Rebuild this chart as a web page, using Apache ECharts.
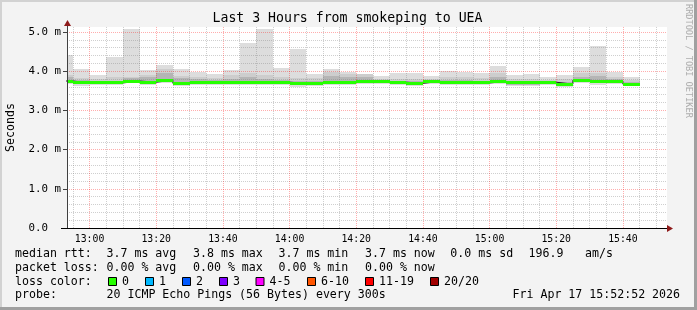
<!DOCTYPE html>
<html><head><meta charset="utf-8">
<script src="https://cdn.jsdelivr.net/npm/echarts@6/dist/echarts.min.js"></script>
<style>html,body{margin:0;padding:0;background:#f3f3f3}#c{width:697px;height:310px}</style>
</head><body><div id="c"></div>
<script>
// ---- data (milliseconds) ----
const binStart = ["12:50","12:55","13:00","13:05","13:10","13:15","13:20","13:25","13:30","13:35","13:40","13:45",
  "13:50","13:55","14:00","14:05","14:10","14:15","14:20","14:25","14:30","14:35","14:40","14:45",
  "14:50","14:55","15:00","15:05","15:10","15:15","15:20","15:25","15:30","15:35","15:40"];
const maxv = [4.41,4.05,3.90,4.35,5.08,4.03,4.16,4.06,3.99,3.92,4.03,4.73,5.08,4.07,4.57,3.92,4.06,3.97,3.93,3.88,3.96,3.96,3.89,4.01,3.97,3.95,4.13,3.90,3.93,3.84,3.90,4.10,4.64,3.99,3.84];
const p90  = [3.90,3.82,3.79,3.84,3.86,3.90,4.05,3.88,3.84,3.82,3.90,3.95,3.90,3.84,3.82,3.82,3.97,3.93,3.93,3.79,3.80,3.80,3.79,3.86,3.84,3.82,3.95,3.79,3.79,3.78,3.79,3.95,3.96,3.86,3.77];
const p75  = [3.84,3.77,3.75,3.76,3.82,3.84,3.95,3.82,3.79,3.77,3.80,3.84,3.80,3.78,3.76,3.76,3.88,3.84,3.84,3.77,3.76,3.75,3.77,3.77,3.77,3.76,3.84,3.75,3.75,3.76,3.73,3.86,3.88,3.79,3.72];
const med  = [3.75,3.70,3.70,3.70,3.75,3.72,3.77,3.69,3.72,3.72,3.72,3.72,3.72,3.72,3.69,3.69,3.72,3.72,3.74,3.73,3.72,3.69,3.74,3.70,3.72,3.70,3.74,3.70,3.70,3.72,3.67,3.77,3.73,3.74,3.67];
const p25  = [3.72,3.67,3.67,3.67,3.72,3.69,3.73,3.66,3.69,3.69,3.69,3.69,3.69,3.69,3.65,3.66,3.69,3.69,3.70,3.70,3.69,3.66,3.71,3.67,3.69,3.67,3.71,3.66,3.66,3.69,3.64,3.73,3.69,3.70,3.64];
const minv = [3.68,3.62,3.64,3.64,3.69,3.65,3.70,3.63,3.66,3.66,3.66,3.65,3.66,3.66,3.61,3.63,3.66,3.66,3.68,3.67,3.66,3.63,3.68,3.64,3.66,3.64,3.68,3.63,3.63,3.66,3.61,3.70,3.66,3.67,3.62];
const binMinutes = 5;
const xLabelTicks = ["13:00","13:20","13:40","14:00","14:20","14:40","15:00","15:20","15:40"];
const yLabelTicks = [0,1,2,3,4,5];
const startTime = "12:53:14", endTime = "15:53:14";
const yMax = 5.128;

function tm(s){const p=s.split(':').map(Number);return p[0]*60+p[1]+(p[2]||0)/60;}
function fmt(v){const h=Math.floor(v/60+1e-9),m=Math.round(v-h*60);return String(h).padStart(2,'0')+':'+String(m).padStart(2,'0');}
const XMIN = tm(startTime), XMAX = tm(endTime);

const rows = binStart.map((s,i)=>[tm(s), tm(s)+binMinutes, minv[i], p25[i], med[i], p75[i], p90[i], maxv[i]]);
const stepData = binStart.map((s,i)=>[tm(s), med[i]]);
stepData.push([tm(binStart[binStart.length-1])+binMinutes, med[med.length-1]]);

// grid line positions
const xMajor = xLabelTicks.map(tm);
const xMinor = [];
for (let t = tm("12:55"); t <= XMAX; t += 5) { if (!xMajor.some(m=>Math.abs(m-t)<1e-6)) xMinor.push(t); }
const yMajor = [1,2,3,4,5];
const yMinor = [];
for (let k = 1; k <= 25; k++) { if (k % 5) yMinor.push(k*0.2); }

const minorStyle = {color:'rgba(130,130,130,0.38)', width:1, type:[1,1]};
const majorStyle = {color:'rgba(255,0,0,0.32)', width:1, type:[1,1]};
const gridMark = (arr, key, style) => arr.map(v => ({[key]: v, lineStyle: style}));

function renderSmoke(params, api){
  const xa = Math.max(api.value(0), XMIN), xb = api.value(1);
  const layers = [[2,7,'#dddddd'],[3,6,'#cdcdcd'],[3,5,'#b5b5b5']];
  return {type:'group', children: layers.map(([lo,hi,c])=>{
    const a = api.coord([xa, api.value(hi)]), b = api.coord([xb, api.value(lo)]);
    const x = Math.round(a[0]), y = Math.round(a[1]);
    return {type:'rect', shape:{x:x, y:y, width:Math.round(b[0])-x, height:Math.max(1,Math.round(b[1])-y)}, style:{fill:c}};
  })};
}
function renderMedian(params, api){
  const xa = Math.max(api.value(0), XMIN);
  const a = api.coord([xa, api.value(4)]), b = api.coord([api.value(1), api.value(4)]);
  const x = Math.round(a[0]);
  return {type:'rect', shape:{x:x, y:Math.round(a[1]-1.5), width:Math.round(b[0])-x, height:3}, style:{fill:'#26ff00'}};
}

const MONO = '"DejaVu Sans Mono", monospace';
const LF = '11.6px ' + MONO;
function txt(x, y, s, extra){ return Object.assign({type:'text', x:x, y:y, silent:true, style:{text:s, font:LF, fill:'#000', textAlign:'left', textVerticalAlign:'middle'}}, extra||{}); }
const L1 = 254.3, L2 = 267.8, L3 = 281.5, L4 = 295.4;
const lossColors = [['0','#26ff00',108.5],['1','#00b8ff',145.5],['2','#0059ff',182.5],['3','#7e00ff',219.5],
  ['4-5','#ff00ff',256],['6-10','#ff5500',307.5],['11-19','#ff0000',365.5],['20/20','#a10000',430.5]];

const graphics = [
  {type:'rect', shape:{x:0,y:0,width:697,height:310}, style:{fill:'#f3f3f3'}, z:-10},
  {type:'rect', shape:{x:0,y:0,width:697,height:2}, style:{fill:'#d2d2d2'}, z:-9},
  {type:'rect', shape:{x:0,y:0,width:2,height:310}, style:{fill:'#d2d2d2'}, z:-9},
  {type:'rect', shape:{x:694,y:0,width:3,height:310}, style:{fill:'#a0a0a0'}, z:-9},
  {type:'rect', shape:{x:0,y:307,width:697,height:3}, style:{fill:'#a0a0a0'}, z:-9},
  {type:'text', x:347.5, y:18.5, style:{text:'Last 3 Hours from smokeping to UEA', font:'13.2px '+MONO, fill:'#000', textAlign:'center', textVerticalAlign:'middle'}},
  {type:'text', x:11, y:127.5, rotation:Math.PI/2, style:{text:'Seconds', font:LF, fill:'#000', textAlign:'center', textVerticalAlign:'middle'}},
  {type:'text', x:688.5, y:4, rotation:-Math.PI/2, style:{text:'RRDTOOL / TOBI OETIKER', font:'8.6px '+MONO, fill:'#adadad', textAlign:'left', textVerticalAlign:'middle'}},
  // axis extensions and arrows
  {type:'line', shape:{x1:61,y1:228.5,x2:668,y2:228.5}, style:{stroke:'#000',lineWidth:1}, z:10},
  {type:'line', shape:{x1:67.5,y1:228,x2:67.5,y2:24}, style:{stroke:'#404040',lineWidth:1}, z:10},
  {type:'polygon', shape:{points:[[64,26],[71,26],[67.5,20]]}, style:{fill:'#8e1a1a'}, z:11},
  {type:'polygon', shape:{points:[[667,225],[667,232],[673,228.5]]}, style:{fill:'#8e1a1a'}, z:11},
  // legend
  txt(15,L1,'median rtt:'), txt(106.5,L1,'3.7 ms avg'), txt(193,L1,'3.8 ms max'), txt(278.5,L1,'3.7 ms min'),
  txt(365,L1,'3.7 ms now'), txt(450.3,L1,'0.0 ms sd'), txt(528.5,L1,'196.9'), txt(585,L1,'am/s'),
  txt(15,L2,'packet loss:'), txt(106.5,L2,'0.00 % avg'), txt(193,L2,'0.00 % max'), txt(278.5,L2,'0.00 % min'), txt(365,L2,'0.00 % now'),
  txt(15,L3,'loss color:'),
  txt(15,L4,'probe:'), txt(106.5,L4,'20 ICMP Echo Pings (56 Bytes) every 300s'), txt(512.5,L4,'Fri Apr 17 15:52:52 2026')
];
lossColors.forEach(([lab,col,x])=>{
  graphics.push({type:'rect', shape:{x:x, y:277.5, width:8, height:8}, style:{fill:col, stroke:'#000', lineWidth:1}, z:5});
  graphics.push(txt(x+13.5, L3, lab));
});

const chart = echarts.init(document.getElementById('c'), null, {renderer:'canvas'});
chart.setOption({
  animation:false,
  backgroundColor:'transparent',
  graphic:{elements:graphics},
  grid:{left:67, top:27, width:600, height:201, show:true, backgroundColor:'#ffffff', borderWidth:0},
  xAxis:{type:'value', min:XMIN, max:XMAX, splitNumber:9,
    axisLine:{show:true, lineStyle:{color:'#000'}}, axisTick:{show:false},
    splitLine:{show:false},
    axisLabel:{customValues:xMajor, margin:6, fontFamily:'DejaVu Sans Mono', fontSize:9.8, color:'#000',
      formatter:v=>{const r=Math.round(v); return (Math.abs(v-r)<1e-6 && r%20===0)?fmt(r):'';}}},
  yAxis:{type:'value', min:0, max:yMax, interval:1,
    axisLine:{show:true, lineStyle:{color:'#404040'}},
    axisTick:{show:true, customValues:yLabelTicks, length:4, lineStyle:{color:'#404040'}},
    splitLine:{show:false},
    axisLabel:{customValues:yLabelTicks, margin:6, fontFamily:'DejaVu Sans Mono', fontSize:10.8, color:'#000',
      formatter:v=>{const r=Math.round(v); if(Math.abs(v-r)>1e-6) return ''; return r===0?'0.0  ':r.toFixed(1)+' m';}}},
  series:[
    {type:'custom', name:'smoke', renderItem:renderSmoke, data:rows, encode:{x:[0,1], y:[2,7]}, clip:true, z:2, silent:true},
    {type:'line', name:'grid', data:[], z:3, silent:true,
      markLine:{silent:true, symbol:['none','none'], label:{show:false}, animation:false,
        data: gridMark(xMinor,'xAxis',minorStyle).concat(gridMark(yMinor,'yAxis',minorStyle), gridMark(xMajor,'xAxis',majorStyle), gridMark(yMajor,'yAxis',majorStyle))}},
    {type:'line', name:'median-line', step:'end', data:stepData, symbol:'none', lineStyle:{color:'#202020', width:1}, z:4, silent:true, clip:true},
    {type:'custom', name:'median', renderItem:renderMedian, data:rows, encode:{x:[0,1], y:4}, clip:true, z:5, silent:true}
  ]
});
</script></body></html>
